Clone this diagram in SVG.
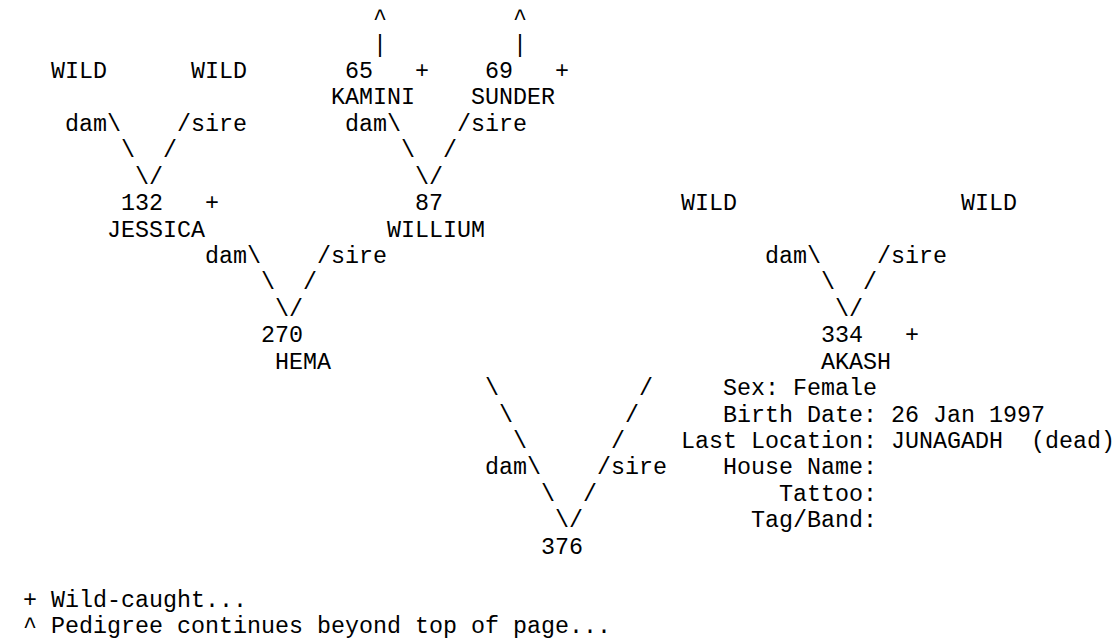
<svg xmlns="http://www.w3.org/2000/svg" width="1115" height="641" viewBox="0 0 1115 641">
<style>
text{font-family:"Liberation Mono","Courier New",monospace;font-size:23.33px;fill:#000;white-space:pre}
</style>
<rect width="1115" height="641" fill="#fff"/>
<g id="connectors">
<text x="373" y="25.1">^</text><text x="513" y="25.1">^</text>
<text x="373" y="51.5">|</text><text x="513" y="51.5">|</text>
<text x="65" y="130.8">dam\</text><text x="177" y="130.8">/sire</text>
<text x="345" y="130.8">dam\</text><text x="457" y="130.8">/sire</text>
<text x="121" y="157.3">\</text><text x="163" y="157.3">/</text>
<text x="401" y="157.3">\</text><text x="443" y="157.3">/</text>
<text x="135" y="183.7">\/</text><text x="415" y="183.7">\/</text>
<text x="205" y="263">dam\</text><text x="317" y="263">/sire</text>
<text x="765" y="263">dam\</text><text x="877" y="263">/sire</text>
<text x="261" y="289.4">\</text><text x="303" y="289.4">/</text>
<text x="821" y="289.4">\</text><text x="863" y="289.4">/</text>
<text x="275" y="315.8">\/</text><text x="835" y="315.8">\/</text>
<text x="485" y="395.1">\</text><text x="639" y="395.1">/</text>
<text x="499" y="421.6">\</text><text x="625" y="421.6">/</text>
<text x="513" y="448">\</text><text x="611" y="448">/</text>
<text x="485" y="474.4">dam\</text><text x="597" y="474.4">/sire</text>
<text x="541" y="500.8">\</text><text x="583" y="500.8">/</text>
<text x="555" y="527.3">\/</text>
</g>
<g id="wild1"><text x="51" y="78">WILD</text></g>
<g id="wild2"><text x="191" y="78">WILD</text></g>
<g id="n65"><text x="345" y="78">65</text><text x="415" y="78">+</text><text x="331" y="104.4">KAMINI</text></g>
<g id="n69"><text x="485" y="78">69</text><text x="555" y="78">+</text><text x="471" y="104.4">SUNDER</text></g>
<g id="n132"><text x="121" y="210.1">132</text><text x="205" y="210.1">+</text><text x="107" y="236.5">JESSICA</text></g>
<g id="n87"><text x="415" y="210.1">87</text><text x="387" y="236.5">WILLIUM</text></g>
<g id="wild3"><text x="681" y="210.1">WILD</text></g>
<g id="wild4"><text x="961" y="210.1">WILD</text></g>
<g id="n270"><text x="261" y="342.3">270</text><text x="275" y="368.7">HEMA</text></g>
<g id="n334"><text x="821" y="342.3">334</text><text x="905" y="342.3">+</text><text x="821" y="368.7">AKASH</text></g>
<g id="n376">
<text x="541" y="553.7">376</text>
<text x="723" y="395.1">Sex: Female</text>
<text x="723" y="421.6">Birth Date: 26 Jan 1997</text>
<text x="681" y="448" xml:space="preserve">Last Location: JUNAGADH  (dead)</text>
<text x="723" y="474.4">House Name:</text>
<text x="779" y="500.8">Tattoo:</text>
<text x="751" y="527.3">Tag/Band:</text>
</g>
<g id="legend">
<text x="23" y="606.6">+ Wild-caught...</text>
<text x="23" y="633">^ Pedigree continues beyond top of page...</text>
</g>
</svg>
